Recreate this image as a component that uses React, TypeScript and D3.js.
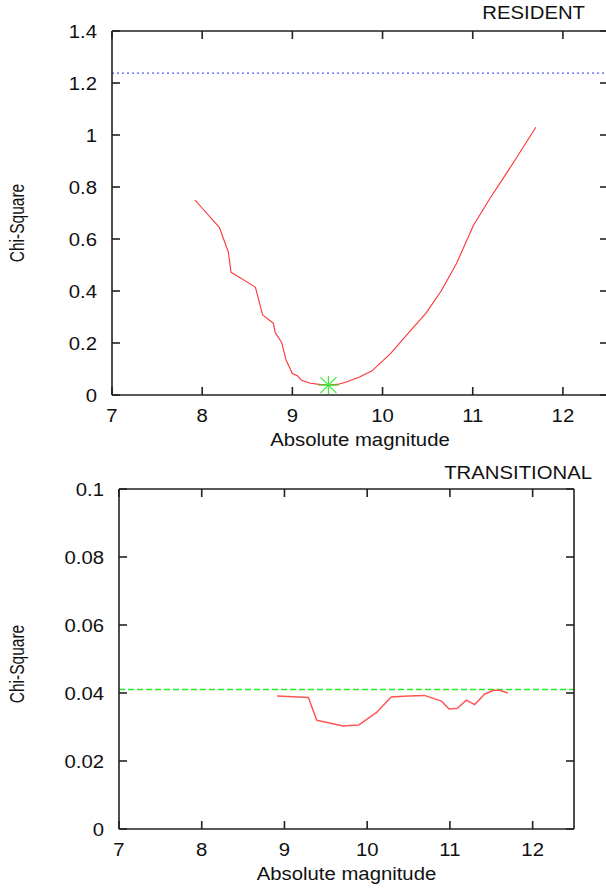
import React from "react";
import * as d3 from "d3";

// ---------- data ----------
const residentMag = [7.92, 8.19, 8.29, 8.32, 8.59, 8.67, 8.79, 8.81, 8.88, 8.93, 9.0, 9.06, 9.1, 9.2, 9.3, 9.4, 9.52, 9.6, 9.75, 9.88, 10.09, 10.3, 10.48, 10.65, 10.82, 11.01, 11.18, 11.45, 11.7];
const residentChi = [0.75, 0.645, 0.55, 0.472, 0.415, 0.308, 0.276, 0.24, 0.203, 0.135, 0.083, 0.073, 0.057, 0.045, 0.041, 0.038, 0.042, 0.05, 0.07, 0.092, 0.16, 0.244, 0.314, 0.4, 0.506, 0.654, 0.75, 0.893, 1.03];
const residentThreshold = 1.238;
const residentBestMag = 9.4;
const residentBestChi = 0.038;

const transMag = [8.91, 9.29, 9.39, 9.71, 9.9, 10.11, 10.29, 10.5, 10.69, 10.9, 10.99, 11.09, 11.2, 11.3, 11.42, 11.53, 11.6, 11.7];
const transChi = [0.0391, 0.0387, 0.032, 0.0303, 0.0306, 0.0342, 0.0388, 0.0391, 0.0393, 0.0376, 0.0353, 0.0355, 0.0379, 0.0366, 0.0397, 0.0408, 0.0408, 0.04];
const transThreshold = 0.041;

const xTicks = [7, 8, 9, 10, 11, 12];
const residentYTicks = [0, 0.2, 0.4, 0.6, 0.8, 1, 1.2, 1.4];
const transYTicks = [0, 0.02, 0.04, 0.06, 0.08, 0.1];

const FONT = "'Liberation Sans', Arial, Helvetica, sans-serif";

function T({ x, y, anchor = "start", size = 19, rot = false, sx = 1.07, children }: any) {
  const tr = rot ? `translate(${x},${y}) scale(${sx},1) rotate(-90)` : `translate(${x},${y}) scale(${sx},1)`;
  return (
    <text transform={tr} textAnchor={anchor} fontFamily={FONT} fontSize={size} fill="#111">
      {children}
    </text>
  );
}

function Panel({ left, right, top, bottom, yMax, yTicks, fmt, mags, chis, thr, thrColor, thrDash, thrWidth, title, titleRight, titleY, yLabelY, showRight, lineColor, lineWidth, star }: any) {
  const x = d3.scaleLinear().domain([7, 12.5]).range([left, right]);
  const y = d3.scaleLinear().domain([0, yMax]).range([bottom, top]);
  const line = d3.line<number>().x((_, i) => x(mags[i])).y((d) => y(d));
  const tl = 8;
  const ax = "#222";
  return (
    <g>
      <line x1={x(7)} x2={x(12.5)} y1={y(thr)} y2={y(thr)} stroke={thrColor} strokeWidth={thrWidth} strokeDasharray={thrDash} />
      <line x1={left} x2={left} y1={top} y2={bottom} stroke={ax} strokeWidth={1.6} />
      <line x1={left} x2={right} y1={bottom} y2={bottom} stroke={ax} strokeWidth={1.6} />
      <line x1={left} x2={right} y1={top} y2={top} stroke={ax} strokeWidth={1.6} />
      {showRight && <line x1={right} x2={right} y1={top} y2={bottom} stroke={ax} strokeWidth={1.6} />}
      {xTicks.map((t) => (
        <g key={"x" + t}>
          <line x1={x(t)} x2={x(t)} y1={bottom} y2={bottom - tl} stroke={ax} strokeWidth={1.6} />
          <line x1={x(t)} x2={x(t)} y1={top} y2={top + tl} stroke={ax} strokeWidth={1.6} />
          <T x={x(t)} y={bottom + 27} anchor="middle">{String(t)}</T>
        </g>
      ))}
      {yTicks.map((t: number) => (
        <g key={"y" + t}>
          <line x1={left} x2={left + tl} y1={y(t)} y2={y(t)} stroke={ax} strokeWidth={1.6} />
          <line x1={right} x2={right - tl} y1={y(t)} y2={y(t)} stroke={ax} strokeWidth={1.6} />
          <T x={left - 15} y={y(t) + 7} anchor="end">{fmt(t)}</T>
        </g>
      ))}
      <path d={line(chis) || ""} fill="none" stroke={lineColor} strokeWidth={lineWidth} strokeLinejoin="round" />
      {star && (
        <g stroke="#33ee33" strokeWidth={1.3}>
          <line x1={x(star[0]) - 10} x2={x(star[0]) + 10} y1={y(star[1])} y2={y(star[1])} />
          <line x1={x(star[0])} x2={x(star[0])} y1={y(star[1]) - 9} y2={y(star[1]) + 9} />
          <line x1={x(star[0]) - 8} x2={x(star[0]) + 8} y1={y(star[1]) - 8} y2={y(star[1]) + 8} />
          <line x1={x(star[0]) - 8} x2={x(star[0]) + 8} y1={y(star[1]) + 8} y2={y(star[1]) - 8} />
        </g>
      )}
      <T x={(left + right) / 2} y={bottom + 51} anchor="middle">Absolute magnitude</T>
      <T x={titleRight} y={titleY} anchor="end">{title}</T>
      <T x={24} y={yLabelY} anchor="middle" size={15.5} sx={1.25} rot>Chi-Square</T>
    </g>
  );
}

export default function App() {
  const fmtR = (v: number) => d3.format("~g")(+v.toFixed(1));
  const fmtT = (v: number) => (v === 0 ? "0" : String(+v.toFixed(2)));
  return (
    <svg width={606} height={892} style={{ position: "absolute", left: 0, top: 0, background: "#fff" }}>
      <Panel left={112} right={608} top={31} bottom={395} yMax={1.4} yTicks={residentYTicks} fmt={fmtR}
        mags={residentMag} chis={residentChi} thr={residentThreshold} thrColor="#5555ff" thrDash="2,3" thrWidth={1.3}
        title="RESIDENT" titleRight={585} titleY={19} yLabelY={223} showRight={false}
        lineColor="#ff3333" lineWidth={1.1} star={[residentBestMag, residentBestChi]} />
      <Panel left={119} right={574} top={489} bottom={829} yMax={0.1} yTicks={transYTicks} fmt={fmtT}
        mags={transMag} chis={transChi} thr={transThreshold} thrColor="#22ee22" thrDash="6,3" thrWidth={1.5}
        title="TRANSITIONAL" titleRight={592} titleY={479} yLabelY={664} showRight={true}
        lineColor="#ff5555" lineWidth={1.5} star={null} />
    </svg>
  );
}
